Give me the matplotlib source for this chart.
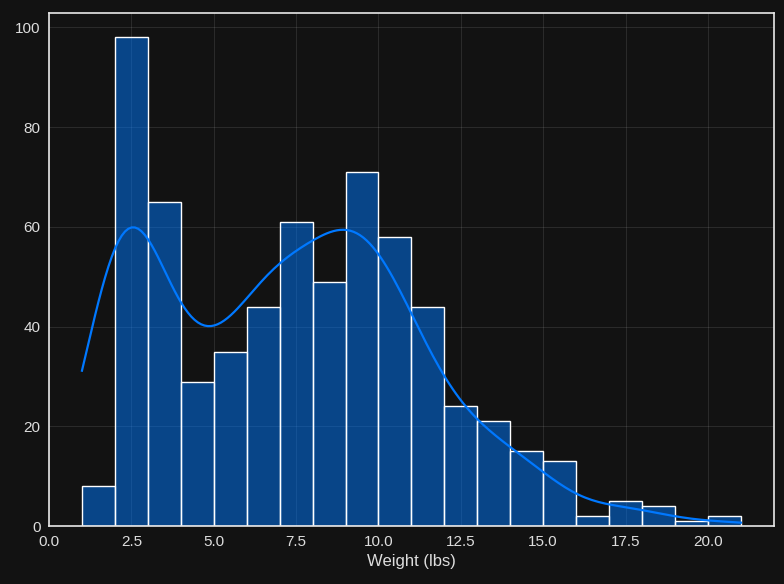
import numpy as np
import matplotlib
matplotlib.use("Agg")
import matplotlib.pyplot as plt
import seaborn as sns

# Histogram: bin edges 1..21, width 1
bin_edges = list(range(1, 22))
# observed weight values (lbs) and how often each occurs
weight_values = list(range(1, 22))
weight_counts = [8, 98, 65, 29, 35, 44, 61, 49, 71, 58, 44, 24, 21, 15, 13, 2, 5, 4, 1, 1, 1]

weights_data = np.repeat(weight_values, weight_counts).astype(float)

bg = "#121212"
plt.rcParams["font.family"] = ["Liberation Sans", "DejaVu Sans"]

fig, ax = plt.subplots(figsize=(7.84, 5.84), dpi=100)
fig.patch.set_facecolor(bg)
ax.set_facecolor(bg)

sns.histplot(weights_data, bins=bin_edges, kde=True, color="#0078ff", alpha=0.5,
             edgecolor="white", linewidth=1.0, ax=ax,
             line_kws={"linewidth": 1.6})

ax.grid(True, color="white", alpha=0.1, linewidth=0.8)
ax.set_axisbelow(True)
for s in ax.spines.values():
    s.set_color("#e8e8e8")
    s.set_linewidth(1.2)
ax.tick_params(colors="#dddddd", labelsize=11, length=0, pad=6)
ax.set_xlabel("Weight (lbs)", color="#dddddd", fontsize=12)
ax.set_ylabel("")
ax.set_yticks([0, 20, 40, 60, 80, 100])
ax.set_xticks([0, 2.5, 5, 7.5, 10, 12.5, 15, 17.5, 20])
ax.set_xticklabels(["0.0", "2.5", "5.0", "7.5", "10.0", "12.5", "15.0", "17.5", "20.0"])

fig.subplots_adjust(left=0.0625, right=0.987, top=0.978, bottom=0.099)
fig.savefig("out.png", dpi=100, facecolor=bg)
